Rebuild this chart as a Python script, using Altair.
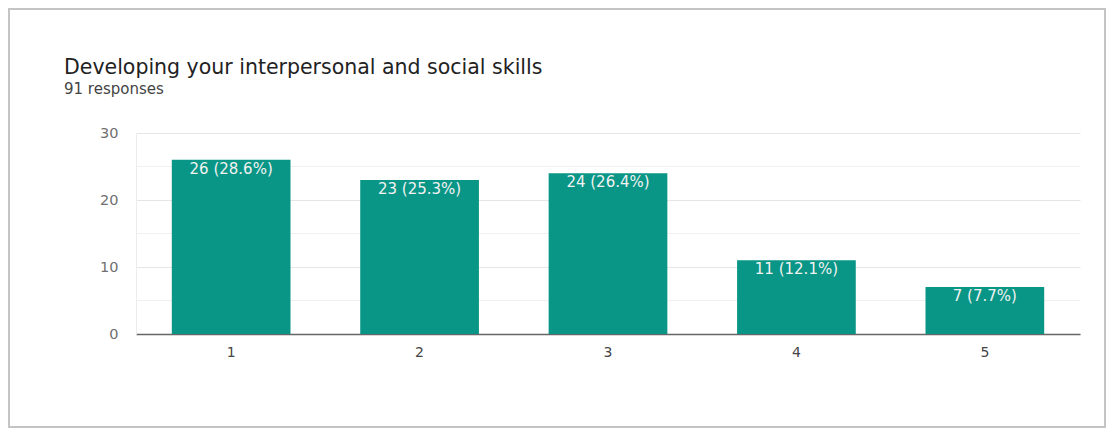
import altair as alt
import pandas as pd

categories = ["1", "2", "3", "4", "5"]
counts = [26, 23, 24, 11, 7]
labels = ["26 (28.6%)", "23 (25.3%)", "24 (26.4%)", "11 (12.1%)", "7 (7.7%)"]
minor_grid = [5, 15, 25]
title_text = ["Developing your interpersonal and social skills"]
subtitle_text = ["91 responses"]

df = pd.DataFrame({"cat": categories, "count": counts, "label": labels})
minor_df = pd.DataFrame({"v": minor_grid})

FONT = "DejaVu Sans"
TEAL = "#0a9686"

x_enc = alt.X("cat:N", sort=categories, title=None,
              scale=alt.Scale(paddingInner=0.37, paddingOuter=0.19),
              axis=alt.Axis(labelAngle=0, ticks=False, domain=True, domainColor="#666",
                            domainWidth=1.5, labelPadding=11, labelFontSize=14,
                            labelColor="#444", labelFont=FONT, grid=False))
y_scale = alt.Scale(domain=[0, 30], nice=False)

minor = alt.Chart(minor_df).mark_rule(color="#f0f0f0", strokeWidth=1).encode(
    y=alt.Y("v:Q", scale=y_scale)
)

bars = alt.Chart(df).mark_bar(color=TEAL).encode(
    x=x_enc,
    y=alt.Y("count:Q", scale=y_scale, title=None,
            axis=alt.Axis(values=[0, 10, 20, 30], ticks=False, domain=True,
                          domainColor="#ececec", gridColor="#e6e6e6", labelPadding=18,
                          labelFontSize=14.5, labelColor="#707070", labelFont=FONT)),
)

text = alt.Chart(df).mark_text(color="#f2f2f2", fontSize=15, font=FONT, baseline="middle", dy=9).encode(
    x=alt.X("cat:N", sort=categories),
    y=alt.Y("count:Q", scale=y_scale),
    text="label:N",
)

title = alt.Chart(pd.DataFrame({"t": title_text})).mark_text(
    align="left", baseline="alphabetic", font=FONT, fontSize=20.5, color="#222"
).encode(x=alt.value(-72), y=alt.value(-59), text="t:N")

subtitle = alt.Chart(pd.DataFrame({"t": subtitle_text})).mark_text(
    align="left", baseline="alphabetic", font=FONT, fontSize=15, color="#444"
).encode(x=alt.value(-72), y=alt.value(-39), text="t:N")

frame = alt.Chart(pd.DataFrame({"t": title_text})).mark_rect(
    fill=None, stroke="#c4c4c4", strokeWidth=2
).encode(x=alt.value(-127), x2=alt.value(969), y=alt.value(-124), y2=alt.value(294))

chart = alt.layer(minor, bars, text, title, subtitle, frame).properties(
    width=944, height=201,
    background="white",
    autosize=alt.AutoSizeParams(type="none"),
    padding={"left": 128, "top": 125, "right": 27, "bottom": 94},
).configure_view(stroke=None)

chart.save("out.html", embed_options={"renderer": "svg", "actions": False})
